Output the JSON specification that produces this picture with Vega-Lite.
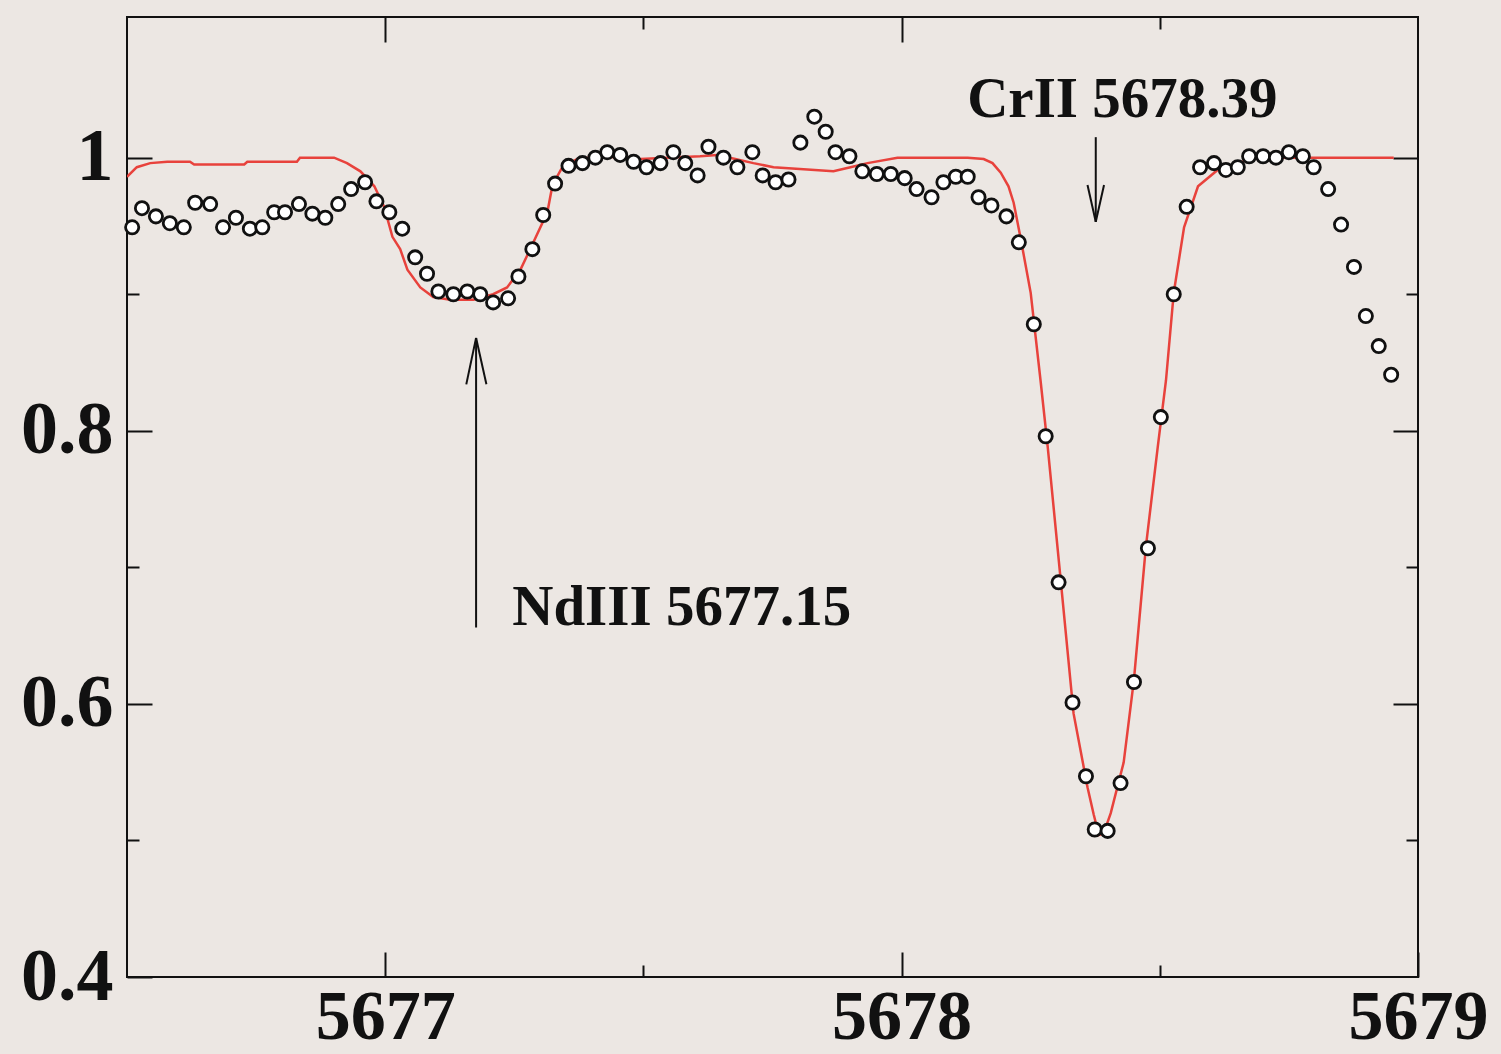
{
  "$schema": "https://vega.github.io/schema/vega-lite/v6.json",
  "width": 1291,
  "height": 960,
  "autosize": {"type": "none"},
  "padding": {"left": 127, "top": 17, "right": 83, "bottom": 77},
  "background": "#ECE7E3",
  "config": {
    "view": {"stroke": "#111111", "strokeWidth": 2},
    "axis": {"grid": false, "domain": false, "title": null, "tickColor": "#111111", "tickWidth": 2, "labelColor": "#111111", "labelFont": "Liberation Serif", "labelFontWeight": "bold"}
  },
  "datasets": {
    "model": [
      {"wl": 5676.500, "flux": 0.986}, {"wl": 5676.519, "flux": 0.993}, {"wl": 5676.545, "flux": 0.996}, {"wl": 5676.578, "flux": 0.997},
      {"wl": 5676.622, "flux": 0.997}, {"wl": 5676.630, "flux": 0.995}, {"wl": 5676.727, "flux": 0.995}, {"wl": 5676.733, "flux": 0.997},
      {"wl": 5676.829, "flux": 0.997}, {"wl": 5676.835, "flux": 1.000}, {"wl": 5676.901, "flux": 1.000}, {"wl": 5676.926, "flux": 0.996},
      {"wl": 5676.952, "flux": 0.990}, {"wl": 5676.979, "flux": 0.979}, {"wl": 5676.998, "flux": 0.964}, {"wl": 5677.014, "flux": 0.942},
      {"wl": 5677.029, "flux": 0.933}, {"wl": 5677.043, "flux": 0.918}, {"wl": 5677.068, "flux": 0.905}, {"wl": 5677.093, "flux": 0.898},
      {"wl": 5677.126, "flux": 0.896}, {"wl": 5677.171, "flux": 0.896}, {"wl": 5677.209, "flux": 0.900}, {"wl": 5677.236, "flux": 0.905},
      {"wl": 5677.262, "flux": 0.918}, {"wl": 5677.287, "flux": 0.938}, {"wl": 5677.314, "flux": 0.960}, {"wl": 5677.324, "flux": 0.980},
      {"wl": 5677.343, "flux": 0.993}, {"wl": 5677.372, "flux": 0.999}, {"wl": 5677.417, "flux": 1.001}, {"wl": 5677.494, "flux": 0.999},
      {"wl": 5677.547, "flux": 1.000}, {"wl": 5677.610, "flux": 1.001}, {"wl": 5677.643, "flux": 1.002}, {"wl": 5677.678, "flux": 0.999},
      {"wl": 5677.713, "flux": 0.996}, {"wl": 5677.752, "flux": 0.993}, {"wl": 5677.868, "flux": 0.990}, {"wl": 5677.901, "flux": 0.993},
      {"wl": 5677.934, "flux": 0.996}, {"wl": 5677.992, "flux": 1.000}, {"wl": 5678.128, "flux": 1.000}, {"wl": 5678.159, "flux": 0.999},
      {"wl": 5678.176, "flux": 0.996}, {"wl": 5678.192, "flux": 0.989}, {"wl": 5678.207, "flux": 0.979}, {"wl": 5678.217, "flux": 0.967},
      {"wl": 5678.231, "flux": 0.940}, {"wl": 5678.250, "flux": 0.901}, {"wl": 5678.269, "flux": 0.837}, {"wl": 5678.283, "flux": 0.788},
      {"wl": 5678.308, "flux": 0.691}, {"wl": 5678.333, "flux": 0.593}, {"wl": 5678.360, "flux": 0.539}, {"wl": 5678.372, "flux": 0.519},
      {"wl": 5678.382, "flux": 0.504}, {"wl": 5678.391, "flux": 0.505}, {"wl": 5678.405, "flux": 0.520}, {"wl": 5678.430, "flux": 0.557},
      {"wl": 5678.450, "flux": 0.618}, {"wl": 5678.473, "flux": 0.715}, {"wl": 5678.496, "flux": 0.788}, {"wl": 5678.512, "flux": 0.837},
      {"wl": 5678.527, "flux": 0.901}, {"wl": 5678.547, "flux": 0.949}, {"wl": 5678.574, "flux": 0.979}, {"wl": 5678.612, "flux": 0.991},
      {"wl": 5678.676, "flux": 0.999}, {"wl": 5678.740, "flux": 1.000}, {"wl": 5678.953, "flux": 1.000}
    ],
    "obs": [
      {"wl": 5676.510, "flux": 0.949}, {"wl": 5676.529, "flux": 0.963}, {"wl": 5676.556, "flux": 0.957}, {"wl": 5676.583, "flux": 0.952},
      {"wl": 5676.610, "flux": 0.949}, {"wl": 5676.632, "flux": 0.967}, {"wl": 5676.661, "flux": 0.966}, {"wl": 5676.686, "flux": 0.949},
      {"wl": 5676.711, "flux": 0.956}, {"wl": 5676.738, "flux": 0.948}, {"wl": 5676.762, "flux": 0.949}, {"wl": 5676.785, "flux": 0.960},
      {"wl": 5676.806, "flux": 0.960}, {"wl": 5676.833, "flux": 0.966}, {"wl": 5676.859, "flux": 0.959}, {"wl": 5676.884, "flux": 0.956},
      {"wl": 5676.909, "flux": 0.966}, {"wl": 5676.934, "flux": 0.977}, {"wl": 5676.961, "flux": 0.982}, {"wl": 5676.983, "flux": 0.968},
      {"wl": 5677.008, "flux": 0.960}, {"wl": 5677.033, "flux": 0.948}, {"wl": 5677.058, "flux": 0.927}, {"wl": 5677.081, "flux": 0.915},
      {"wl": 5677.103, "flux": 0.902}, {"wl": 5677.132, "flux": 0.900}, {"wl": 5677.159, "flux": 0.902}, {"wl": 5677.184, "flux": 0.900},
      {"wl": 5677.209, "flux": 0.894}, {"wl": 5677.238, "flux": 0.897}, {"wl": 5677.258, "flux": 0.913}, {"wl": 5677.285, "flux": 0.933},
      {"wl": 5677.306, "flux": 0.958}, {"wl": 5677.329, "flux": 0.981}, {"wl": 5677.355, "flux": 0.994}, {"wl": 5677.382, "flux": 0.996},
      {"wl": 5677.407, "flux": 1.000}, {"wl": 5677.430, "flux": 1.004}, {"wl": 5677.455, "flux": 1.002}, {"wl": 5677.481, "flux": 0.997},
      {"wl": 5677.506, "flux": 0.993}, {"wl": 5677.533, "flux": 0.996}, {"wl": 5677.558, "flux": 1.004}, {"wl": 5677.581, "flux": 0.996},
      {"wl": 5677.605, "flux": 0.987}, {"wl": 5677.626, "flux": 1.008}, {"wl": 5677.655, "flux": 1.000}, {"wl": 5677.682, "flux": 0.993},
      {"wl": 5677.711, "flux": 1.004}, {"wl": 5677.731, "flux": 0.987}, {"wl": 5677.756, "flux": 0.982}, {"wl": 5677.781, "flux": 0.984},
      {"wl": 5677.804, "flux": 1.011}, {"wl": 5677.831, "flux": 1.030}, {"wl": 5677.853, "flux": 1.019}, {"wl": 5677.872, "flux": 1.004},
      {"wl": 5677.899, "flux": 1.001}, {"wl": 5677.924, "flux": 0.990}, {"wl": 5677.952, "flux": 0.988}, {"wl": 5677.979, "flux": 0.988},
      {"wl": 5678.006, "flux": 0.985}, {"wl": 5678.029, "flux": 0.977}, {"wl": 5678.058, "flux": 0.971}, {"wl": 5678.081, "flux": 0.982},
      {"wl": 5678.105, "flux": 0.986}, {"wl": 5678.128, "flux": 0.986}, {"wl": 5678.149, "flux": 0.971}, {"wl": 5678.174, "flux": 0.965},
      {"wl": 5678.203, "flux": 0.957}, {"wl": 5678.227, "flux": 0.938}, {"wl": 5678.256, "flux": 0.878}, {"wl": 5678.279, "flux": 0.796},
      {"wl": 5678.304, "flux": 0.689}, {"wl": 5678.331, "flux": 0.601}, {"wl": 5678.357, "flux": 0.547}, {"wl": 5678.374, "flux": 0.508},
      {"wl": 5678.399, "flux": 0.507}, {"wl": 5678.424, "flux": 0.542}, {"wl": 5678.450, "flux": 0.616}, {"wl": 5678.477, "flux": 0.714},
      {"wl": 5678.502, "flux": 0.810}, {"wl": 5678.527, "flux": 0.900}, {"wl": 5678.552, "flux": 0.964}, {"wl": 5678.578, "flux": 0.993},
      {"wl": 5678.605, "flux": 0.996}, {"wl": 5678.628, "flux": 0.991}, {"wl": 5678.651, "flux": 0.993}, {"wl": 5678.673, "flux": 1.001},
      {"wl": 5678.700, "flux": 1.001}, {"wl": 5678.725, "flux": 1.000}, {"wl": 5678.750, "flux": 1.004}, {"wl": 5678.777, "flux": 1.001},
      {"wl": 5678.798, "flux": 0.993}, {"wl": 5678.826, "flux": 0.977}, {"wl": 5678.851, "flux": 0.951}, {"wl": 5678.876, "flux": 0.920},
      {"wl": 5678.899, "flux": 0.884}, {"wl": 5678.924, "flux": 0.862}, {"wl": 5678.948, "flux": 0.841}
    ],
    "shafts": [
      {"line": "CrII", "wl": 5678.376, "flux": 1.015, "wl2": 5678.376, "flux2": 0.953},
      {"line": "NdIII", "wl": 5677.176, "flux": 0.656, "wl2": 5677.176, "flux2": 0.868}
    ],
    "heads": [
      {"line": "CrII", "wl": 5678.360, "flux": 0.980, "wl2": 5678.376, "flux2": 0.953},
      {"line": "CrII", "wl": 5678.392, "flux": 0.980, "wl2": 5678.376, "flux2": 0.953},
      {"line": "NdIII", "wl": 5677.157, "flux": 0.834, "wl2": 5677.176, "flux2": 0.868},
      {"line": "NdIII", "wl": 5677.196, "flux": 0.834, "wl2": 5677.176, "flux2": 0.868}
    ],
    "labels": [
      {"wl": 5678.127, "flux": 1.030, "text": "CrII 5678.39"},
      {"wl": 5677.246, "flux": 0.658, "text": "NdIII 5677.15"}
    ]
  },
  "resolve": {"axis": {"x": "independent", "y": "independent"}},
  "layer": [
    {
      "data": {"name": "model"},
      "mark": {"type": "line", "color": "#E8423C", "strokeWidth": 2.5, "clip": true},
      "encoding": {
        "x": {"field": "wl", "type": "quantitative", "scale": {"domain": [5676.5, 5679], "nice": false, "zero": false},
              "axis": {"orient": "bottom", "values": [5677, 5678, 5679], "ticks": false, "labelFontSize": 70, "labelPadding": 6, "labelFlush": false, "labelOverlap": false, "format": "d"}},
        "y": {"field": "flux", "type": "quantitative", "scale": {"domain": [0.4, 1.103], "nice": false, "zero": false},
              "axis": {"orient": "left", "values": [0.4, 0.6, 0.8, 1], "ticks": false, "labelFontSize": 74, "labelPadding": 14, "labelFlush": false, "labelOverlap": false, "labelExpr": "datum.value == 1 ? '1' : format(datum.value, '.1f')"}}
      }
    },
    {
      "data": {"name": "obs"},
      "mark": {"type": "point", "shape": "circle", "filled": false, "fill": "white", "fillOpacity": 1, "stroke": "#111111", "strokeWidth": 2.8, "size": 175, "opacity": 1},
      "encoding": {
        "x": {"field": "wl", "type": "quantitative", "axis": {"orient": "bottom", "values": [5677, 5678, 5679], "labels": false, "tickSize": -25}},
        "y": {"field": "flux", "type": "quantitative", "axis": {"orient": "left", "values": [0.4, 0.6, 0.8, 1], "labels": false, "tickSize": -25}}
      }
    },
    {
      "data": {"name": "shafts"},
      "mark": {"type": "rule", "color": "#111111", "strokeWidth": 2},
      "encoding": {
        "x": {"field": "wl", "type": "quantitative", "axis": {"orient": "bottom", "values": [5677.5, 5678.5], "labels": false, "tickSize": -12}},
        "y": {"field": "flux", "type": "quantitative", "axis": {"orient": "left", "values": [0.5, 0.7, 0.9], "labels": false, "tickSize": -12}},
        "x2": {"field": "wl2"},
        "y2": {"field": "flux2"}
      }
    },
    {
      "data": {"name": "heads"},
      "mark": {"type": "rule", "color": "#111111", "strokeWidth": 2},
      "encoding": {
        "x": {"field": "wl", "type": "quantitative", "axis": {"orient": "top", "values": [5677, 5678], "labels": false, "tickSize": -25}},
        "y": {"field": "flux", "type": "quantitative", "axis": {"orient": "right", "values": [0.6, 0.8, 1], "labels": false, "tickSize": -25}},
        "x2": {"field": "wl2"},
        "y2": {"field": "flux2"}
      }
    },
    {
      "data": {"name": "labels"},
      "mark": {"type": "text", "align": "left", "baseline": "alphabetic", "font": "Liberation Serif", "fontWeight": "bold", "fontSize": 57, "color": "#111111"},
      "encoding": {
        "x": {"field": "wl", "type": "quantitative", "axis": {"orient": "top", "values": [5677.5, 5678.5], "labels": false, "tickSize": -12}},
        "y": {"field": "flux", "type": "quantitative", "axis": {"orient": "right", "values": [0.5, 0.7, 0.9], "labels": false, "tickSize": -12}},
        "text": {"field": "text"}
      }
    }
  ]
}
